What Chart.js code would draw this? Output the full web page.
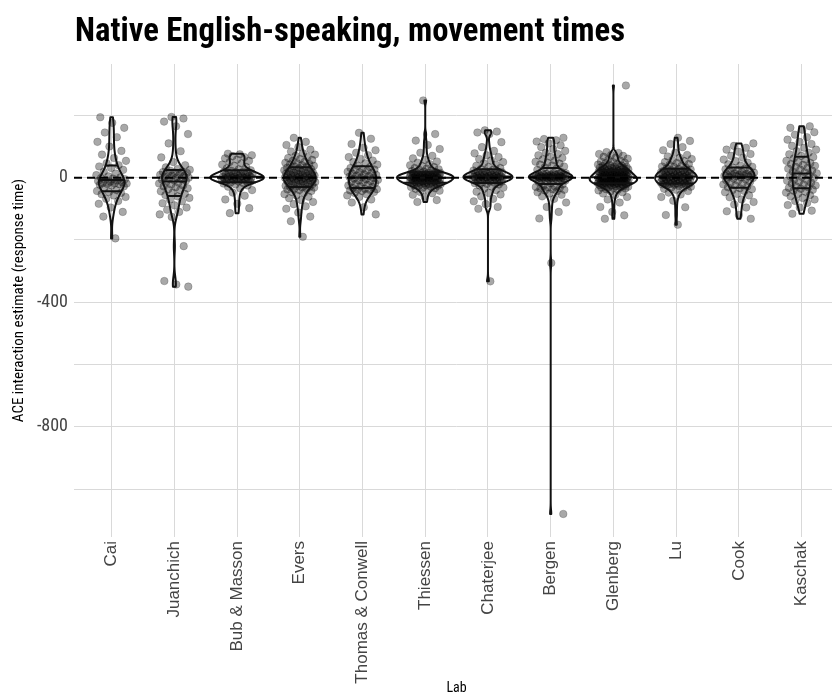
<!DOCTYPE html>
<html>
<head>
<meta charset="utf-8">
<script src="https://cdn.jsdelivr.net/npm/chart.js@4.4.1/dist/chart.umd.min.js"></script>
<style>
  html, body { margin: 0; padding: 0; background: #fff; overflow: hidden; }
  #wrap { width: 844px; height: 699px; }
</style>
</head>
<body>
<div id="wrap"><canvas id="chart" width="844" height="699"></canvas></div>
<script>
// labs in plot order
const labs = ['Cai', 'Juanchich', 'Bub & Masson', 'Evers', 'Thomas & Conwell', 'Thiessen',
  'Chaterjee', 'Bergen', 'Glenberg', 'Lu', 'Cook', 'Kaschak'];

// per-lab interaction estimates (ms)
const cai = [-195, -125, -110, -96, -84, -75, -68, -62, -57, -53, -49, -46, -43,
  -40, -33, -28, -25, -23, -21, -20, -19, -18, -17, -15, -13, -11,
  -9, -7, -5, -3, -1, 1, 4, 8, 13, 19, 25, 31, 36,
  40, 46, 54, 63, 74, 86, 100, 115, 130, 145, 160, 176, 194];
const juanchich = [-350, -343, -332, -220, -126, -118, -110, -103, -96, -89, -82, -76, -70, -65, -60,
  -56, -52, -48, -44, -40, -37, -34, -31, -28, -25, -22, -19, -16, -13, -10,
  -8, -6, -4, -2, 0, 1, 3, 5, 7, 9, 11, 13, 15, 16, 18,
  20, 22, 25, 28, 33, 40, 50, 65, 85, 110, 140, 165, 180, 190, 195];
const bubMasson = [-114, -98, -84, -70, -58, -48,
  -40, -34, -29, -25, -22, -19, -17, -15, -13, -12,
  -11, -10, -9, -8, -7, -6, -5, -4, -3, -2, -1, 0, 0, 1, 1, 2,
  3, 4, 5, 6, 8, 9, 10, 11, 12, 14, 15, 16, 17, 19, 20, 22,
  24, 27, 30, 34, 38, 42, 46, 50, 54, 58, 62, 66, 69, 72, 75, 77];
const evers = [-190, -140, -125, -112, -100, -92, -85, -78, -72, -66, -61, -57, -53, -49, -46, -43, -40, -38, -36, -34, -32, -31, -30, -29,
  -27, -26, -24, -23, -21, -20, -18, -17, -15, -14, -13, -11, -10, -9, -8, -7, -6, -5, -4, -3, -2, -1, 0, 0,
  1, 2, 3, 4, 5, 6, 7, 8, 10, 11, 12, 13, 15, 16, 17, 19, 20, 21, 23, 24, 25, 27, 28, 30,
  32, 34, 36, 38, 40, 42, 44, 46, 48, 51, 54, 57, 60, 63, 66, 70, 74, 78, 84, 90, 98, 105, 115, 128];
const thomasConwell = [-118, -95, -80, -70, -62, -57, -53, -49, -46, -43, -41, -39, -38, -37, -36,
  -33, -30, -28, -25, -23, -20, -18, -15, -13, -11, -9, -7, -5, -3, -1,
  1, 3, 5, 7, 9, 11, 13, 15, 17, 19, 22, 24, 26, 28, 31,
  34, 38, 42, 46, 50, 55, 60, 66, 72, 80, 88, 96, 108, 125, 144];
const thiessen = [-78, -72, -62, -55, -50, -46, -42, -39, -36, -34, -32, -30, -28, -27, -26, -25, -24, -23, -22, -21, -20, -19, -18, -18, -17,
  -16, -15, -15, -14, -13, -12, -12, -11, -10, -10, -9, -8, -8, -7, -6, -6, -5, -4, -4, -3, -3, -2, -1, -1, 0,
  0, 1, 1, 2, 3, 3, 4, 4, 5, 6, 6, 7, 7, 8, 9, 9, 10, 10, 11, 12, 12, 13, 13, 14, 15,
  16, 17, 18, 20, 21, 23, 25, 27, 29, 31, 34, 37, 40, 44, 48, 52, 57, 62, 70, 80, 92, 105, 119, 140, 248];
const chaterjee = [-333, -100, -94, -85, -76, -68, -60, -54, -49, -45, -40, -36, -32, -28, -25, -22, -20, -18, -16, -15,
  -13, -12, -11, -10, -9, -8, -7, -6, -5, -4, -3, -2, -1, -1, 0, 0, 1, 1, 2, 2,
  3, 4, 5, 6, 7, 8, 9, 10, 11, 12, 13, 14, 15, 16, 17, 18, 19, 20, 21, 23,
  25, 28, 31, 34, 38, 42, 46, 50, 55, 60, 66, 72, 78, 86, 98, 114, 140, 145, 148, 152];
const bergen = [-1080, -274, -131, -110, -94, -80, -68, -60, -55, -51, -47, -44, -41, -39, -37, -35, -33, -31, -30, -29,
  -27, -22, -18, -14, -11, -10, -9, -8, -7, -6, -5, -5, -4, -3, -3, -2, -1, 0, 0, 0, 1, 1, 2, 2, 3,
  3, 3, 4, 5, 5, 6, 6, 7, 8, 9, 9, 10, 11, 12, 12, 14, 15, 16, 18, 21, 25, 29, 33, 36, 39,
  42, 45, 48, 51, 55, 59, 63, 67, 72, 76, 80, 86, 92, 98, 104, 110, 116, 120, 124, 128];
const glenberg = [-132, -121, -110, -94, -80, -70, -62, -56, -51, -47, -44, -41, -39, -37, -35, -33, -32, -31, -30, -29, -28, -27, -26, -25, -24, -23, -22, -21, -21, -20, -20, -19, -18, -18, -17,
  -16, -16, -15, -15, -14, -14, -13, -13, -12, -12, -11, -11, -10, -10, -9, -9, -8, -8, -7, -7, -6, -6, -5, -5, -4, -4, -3, -3, -2, -2, -1, -1, 0, 0, 0,
  1, 1, 2, 2, 3, 4, 4, 5, 6, 6, 7, 8, 8, 9, 10, 10, 11, 12, 12, 13, 14, 14, 15, 16, 16, 17, 18, 18, 19, 20, 20, 21, 22, 22, 23,
  24, 25, 26, 27, 28, 29, 30, 31, 32, 33, 34, 35, 36, 37, 38, 40, 42, 44, 46, 48, 50, 52, 55, 58, 61, 64, 67, 70, 73, 76, 79, 82, 296];
const lu = [-151, -120, -95, -74, -62, -54, -48, -43, -39, -36, -33, -31, -29, -27, -25, -24, -23, -22, -21, -20, -20, -19,
  -18, -17, -16, -15, -14, -13, -12, -11, -10, -9, -8, -7, -6, -5, -4, -3, -2, -1, 0, 0, 1, 1, 2,
  3, 4, 5, 6, 7, 8, 9, 10, 11, 12, 13, 14, 15, 16, 17, 18, 19, 20, 21, 22, 23, 24, 26,
  28, 30, 32, 34, 36, 38, 41, 44, 47, 50, 53, 56, 60, 64, 68, 73, 80, 88, 98, 108, 118, 128];
const cook = [-132, -120, -108, -96, -86, -78, -70, -63, -57, -52, -47, -43, -40, -37, -34,
  -31, -28, -25, -22, -19, -16, -13, -10, -8, -5, -3, -1, 1, 3, 4,
  5, 6, 7, 8, 9, 10, 11, 12, 14, 16, 18, 20, 22, 24, 27, 29,
  32, 35, 39, 43, 48, 53, 58, 64, 70, 76, 83, 90, 96, 102, 110];
const kaschak = [-116, -106, -96, -88, -81, -75, -70, -65, -60, -56, -52, -48, -45, -42, -39, -36, -33,
  -31, -28, -25, -22, -19, -16, -13, -10, -7, -4, -1, 2, 5,
  8, 11, 14, 17, 20, 23, 26, 29, 32, 35, 38, 41, 44, 47, 50,
  54, 58, 62, 66, 70, 75, 80, 85, 90, 96, 102, 108, 115, 122, 130, 138, 146, 154, 160, 165];

const labValues = [cai, juanchich, bubMasson, evers, thomasConwell, thiessen,
  chaterjee, bergen, glenberg, lu, cook, kaschak];

// y gridlines and the ones that carry a label
const yGrid = [-1000, -800, -600, -400, -200, 0, 200];
const yTickLabels = [-800, -400, 0];

const narrow = '"Roboto Condensed", "Liberation Sans Narrow", "Arial Narrow", "DejaVu Sans Condensed", sans-serif';
const regular = '"Liberation Sans", Arial, Helvetica, sans-serif';

// jittered points (deterministic spread around each lab)
const points = [];
labValues.forEach((vals, i) => {
  vals.forEach((v, j) => {
    const off = ((((j + 1 + i * 7) * 0.6180339887) % 1) - 0.5) * 0.5;
    points.push({ x: i + 1 + off, y: v });
  });
});

// gaussian kde like R density(), bw.nrd0, trimmed to data range
function kde(vals) {
  const s = [...vals].sort((a, b) => a - b);
  const n = s.length;
  const mean = s.reduce((a, b) => a + b, 0) / n;
  const sd = Math.sqrt(s.reduce((a, b) => a + (b - mean) ** 2, 0) / (n - 1));
  const q = p => { const h = (n - 1) * p, lo = Math.floor(h); const hi = Math.min(lo + 1, n - 1); return s[lo] + (h - lo) * (s[hi] - s[lo]); };
  const iqr = q(0.75) - q(0.25);
  const bw = 0.9 * Math.min(sd, iqr / 1.34) * Math.pow(n, -0.2);
  const m = 400, ys = [], ds = [];
  for (let j = 0; j < m; j++) {
    const yy = s[0] + (s[n - 1] - s[0]) * j / (m - 1);
    let d = 0;
    for (const v of s) { const z = (yy - v) / bw; d += Math.exp(-0.5 * z * z); }
    ys.push(yy);
    ds.push(d / (n * bw * Math.sqrt(2 * Math.PI)));
  }
  return { ys, ds };
}

const violinPlugin = {
  id: 'violins',
  afterDatasetsDraw(chart) {
    const { ctx, chartArea, scales: { x, y } } = chart;
    ctx.save();
    ctx.beginPath();
    ctx.rect(chartArea.left, chartArea.top, chartArea.width, chartArea.height);
    ctx.clip();

    const dens = labValues.map(kde);
    const maxD = Math.max(...dens.map(d => Math.max(...d.ds)));
    ctx.strokeStyle = '#111';
    ctx.lineWidth = 2;
    ctx.lineJoin = 'round';
    dens.forEach((d, i) => {
      const cx = i + 1;
      const m = d.ys.length;
      ctx.beginPath();
      for (let j = 0; j < m; j++) {
        const px = x.getPixelForValue(cx + 0.45 * d.ds[j] / maxD), py = y.getPixelForValue(d.ys[j]);
        j ? ctx.lineTo(px, py) : ctx.moveTo(px, py);
      }
      for (let j = m - 1; j >= 0; j--) {
        ctx.lineTo(x.getPixelForValue(cx - 0.45 * d.ds[j] / maxD), y.getPixelForValue(d.ys[j]));
      }
      ctx.closePath();
      ctx.stroke();

      // quantile segments from the density's cdf
      const total = d.ds.reduce((a, b) => a + b, 0);
      [0.25, 0.5, 0.75].forEach(p => {
        let acc = 0, j = 0;
        while (j < m - 1 && (acc + d.ds[j]) / total < p) { acc += d.ds[j]; j++; }
        const hw = 0.45 * d.ds[j] / maxD;
        const py = y.getPixelForValue(d.ys[j]);
        ctx.beginPath();
        ctx.moveTo(x.getPixelForValue(cx - hw), py);
        ctx.lineTo(x.getPixelForValue(cx + hw), py);
        ctx.stroke();
      });
    });

    // dashed zero line
    ctx.setLineDash([8, 5]);
    ctx.lineWidth = 2;
    ctx.strokeStyle = '#000';
    ctx.beginPath();
    ctx.moveTo(chartArea.left, y.getPixelForValue(0));
    ctx.lineTo(chartArea.right, y.getPixelForValue(0));
    ctx.stroke();
    ctx.restore();
  }
};

const titlePlugin = {
  id: 'plotTitle',
  afterDraw(chart) {
    const { ctx, chartArea } = chart;
    ctx.save();
    ctx.fillStyle = '#000';
    ctx.font = 'bold 32.7px ' + narrow;
    ctx.textBaseline = 'alphabetic';
    ctx.fillText('Native English-speaking, movement times', chartArea.left + 1, 41);
    ctx.restore();
  }
};

new Chart(document.getElementById('chart'), {
  type: 'scatter',
  data: {
    datasets: [{
      data: points,
      backgroundColor: 'rgba(0,0,0,0.34)',
      borderColor: 'rgba(0,0,0,0.24)',
      borderWidth: 0.8,
      pointRadius: 3.8,
    }]
  },
  options: {
    responsive: false,
    animation: false,
    events: [],
    layout: { padding: { top: 64, left: 0, right: 0, bottom: 0 } },
    plugins: { legend: { display: false }, tooltip: { enabled: false } },
    scales: {
      x: {
        type: 'linear',
        min: 0.4,
        max: 12.6,
        afterBuildTicks: s => { s.ticks = labs.map((_, i) => ({ value: i + 1 })); },
        afterFit: s => { s.height = 162; },
        grid: { color: '#d9d9d9', lineWidth: 1, drawTicks: false },
        border: { display: false },
        ticks: {
          autoSkip: false,
          minRotation: 90,
          maxRotation: 90,
          padding: 4,
          color: '#444',
          font: { family: regular, size: 17 },
          callback: v => labs[Math.round(v) - 1] || ''
        },
        title: {
          display: true,
          text: 'Lab',
          color: '#000',
          font: { family: narrow, size: 14 },
          padding: { top: 0, bottom: 2.5 }
        }
      },
      y: {
        min: -1154,
        max: 365,
        afterBuildTicks: s => { s.ticks = yGrid.map(v => ({ value: v })); },
        afterFit: s => { s.width = 74; },
        grid: { color: '#d9d9d9', lineWidth: 1, drawTicks: false },
        border: { display: false },
        ticks: {
          padding: 6,
          color: '#444',
          font: { family: narrow, size: 18 },
          callback: v => yTickLabels.includes(v) ? String(v) : ''
        },
        title: {
          display: true,
          text: 'ACE interaction estimate (response time)',
          color: '#000',
          font: { family: narrow, size: 15 },
          padding: { top: 10, bottom: 0 }
        }
      }
    }
  },
  plugins: [violinPlugin, titlePlugin]
});
</script>
</body>
</html>
